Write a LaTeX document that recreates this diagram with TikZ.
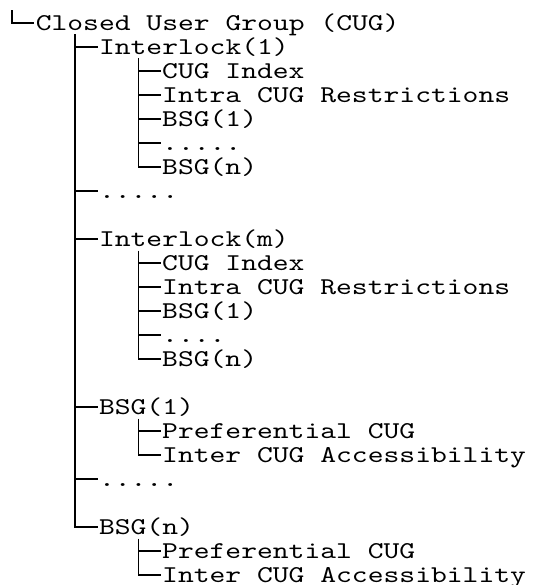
\documentclass[tikz,border=0pt]{standalone}
\usepackage{fontspec}
\usepackage{tikz}
\usetikzlibrary{positioning}
\newfontfamily\cugfont[FakeStretch=1.25]{lmmono10-regular.otf}
\tikzset{
    x=15.8pt, % one character column
    y=-24pt, % one text line, counted downwards
    item/.style={anchor=base west, inner sep=0pt, outer xsep=1.5pt, text height=14pt, text depth=0pt,
        font=\cugfont\fontsize{24.1}{24}\selectfont}, % every entry of the tree
    twig/.style={line width=1.7pt}, % the branch lines
    }

\begin{document}
\begin{tikzpicture}

\useasboundingbox (-2.7pt,30.3pt) rectangle (530.3pt,-554.7pt);

\node[item] (cug) at (2,0) {Closed User Group (CUG)};
\node[item] (lock1) at (6,1) {Interlock(1)};
\node[item] (idx1) at (10,2) {CUG Index};
\node[item] (intra1) at (10,3) {Intra CUG Restrictions};
\node[item] (bsg11) at (10,4) {BSG(1)};
\node[item] (dots11) at (10,5) {.....};
\node[item] (bsg1n) at (10,6) {BSG(n)};
\node[item] (dots1) at (6,7) {.....};
\node[item] (lockm) at (6,9) {Interlock(m)};
\node[item] (idxm) at (10,10) {CUG Index};
\node[item] (intram) at (10,11) {Intra CUG Restrictions};
\node[item] (bsgm1) at (10,12) {BSG(1)};
\node[item] (dotsm) at (10,13) {....};
\node[item] (bsgmn) at (10,14) {BSG(n)};
\node[item] (bsg1) at (6,16) {BSG(1)};
\node[item] (pref1) at (10,17) {Preferential CUG};
\node[item] (acc1) at (10,18) {Inter CUG Accessibility};
\node[item] (dots2) at (6,19) {.....};
\node[item] (bsgn) at (6,21) {BSG(n)};
\node[item] (prefn) at (10,22) {Preferential CUG};
\node[item] (accn) at (10,23) {Inter CUG Accessibility};

\coordinate[above left=20pt and 22.2pt of cug.south west] (cugtop);
\coordinate[below right=4pt and 41pt of cug.south west] (cugstem);
\coordinate[below right=4pt and 41pt of lock1.south west] (lock1stem);
\coordinate[below right=4pt and 41pt of lockm.south west] (lockmstem);
\coordinate[below right=4pt and 41pt of bsg1.south west] (bsg1stem);
\coordinate[below right=4pt and 41pt of bsgn.south west] (bsgnstem);

\draw[twig] (cugtop) |- (cug.west)
(cugstem) |- (lock1.west)
(cugstem) |- (dots1.west)
(cugstem) |- (lockm.west)
(cugstem) |- (bsg1.west)
(cugstem) |- (dots2.west)
(cugstem) |- (bsgn.west)
(lock1stem) |- (idx1.west)
(lock1stem) |- (intra1.west)
(lock1stem) |- (bsg11.west)
(lock1stem) |- (dots11.west)
(lock1stem) |- (bsg1n.west)
(lockmstem) |- (idxm.west)
(lockmstem) |- (intram.west)
(lockmstem) |- (bsgm1.west)
(lockmstem) |- (dotsm.west)
(lockmstem) |- (bsgmn.west)
(bsg1stem) |- (pref1.west)
(bsg1stem) |- (acc1.west)
(bsgnstem) |- (prefn.west)
(bsgnstem) |- (accn.west);

\end{tikzpicture}
\end{document}
